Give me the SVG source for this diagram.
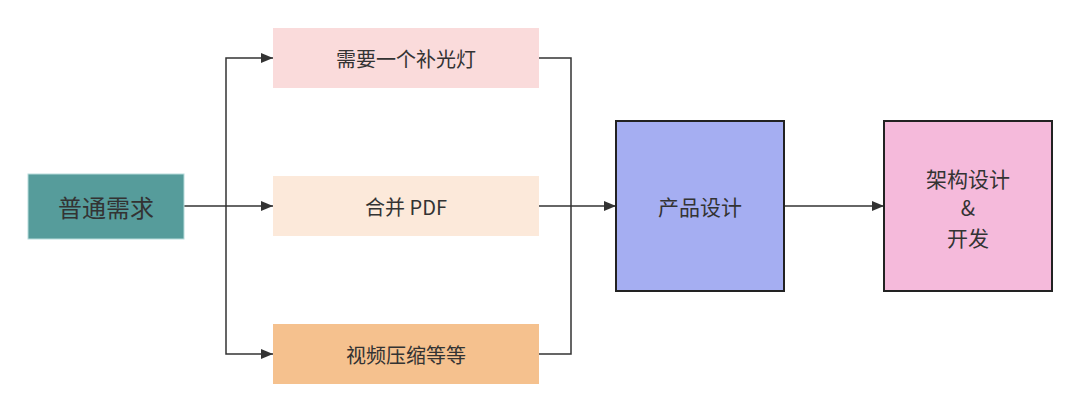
<svg xmlns="http://www.w3.org/2000/svg" width="1080" height="412" viewBox="0 0 1080 412">
<defs>
<marker id="arr" viewBox="0 0 12 10" refX="12" refY="5" markerWidth="12" markerHeight="10" markerUnits="userSpaceOnUse" orient="auto">
<path d="M0,0 L12,5 L0,10 Z" fill="#333"/>
</marker>
</defs>
<style>
text{font-family:"Noto Sans CJK SC","Liberation Sans",sans-serif;fill:#333;text-anchor:middle;dominant-baseline:central}
.c{fill:none;stroke:#333;stroke-width:1.5}
.s{font-size:20px}
.m{font-size:21px}
</style>
<rect width="1080" height="412" fill="#fff"/>
<g id="connectors">
<path class="c" d="M184,206 H226"/>
<path class="c" d="M226,206 V58 H273" marker-end="url(#arr)"/>
<path class="c" d="M226,206 H273" marker-end="url(#arr)"/>
<path class="c" d="M226,206 V354 H273" marker-end="url(#arr)"/>
<path class="c" d="M539,58 H571 V354 H539"/>
<path class="c" d="M539,206 H616" marker-end="url(#arr)"/>
<path class="c" d="M784,206 H884" marker-end="url(#arr)"/>
</g>
<g id="n-demand">
<rect x="28" y="174" width="156" height="65" fill="#569C9B" stroke="#B8DCDB" stroke-width="1"/>
<text x="106" y="206.5" style="font-size:24px">普通需求</text>
</g>
<g id="n-light">
<rect x="273" y="28" width="266" height="60" fill="#FADBDB"/>
<text class="s" x="406" y="58">需要一个补光灯</text>
</g>
<g id="n-pdf">
<rect x="273" y="176" width="266" height="60" fill="#FCE9DA"/>
<text class="s" x="406" y="206">合并 PDF</text>
</g>
<g id="n-video">
<rect x="273" y="324" width="266" height="60" fill="#F5C18E"/>
<text class="s" x="406" y="354">视频压缩等等</text>
</g>
<g id="n-product">
<rect x="616" y="121" width="168" height="170" fill="#A5AEF2" stroke="#222" stroke-width="2"/>
<text class="m" x="700" y="206">产品设计</text>
</g>
<g id="n-arch">
<rect x="884" y="121" width="168" height="170" fill="#F5BADB" stroke="#222" stroke-width="2"/>
<text class="m" x="968" y="178">架构设计</text>
<text class="m" x="968" y="207">&amp;</text>
<text class="m" x="968" y="237">开发</text>
</g>
</svg>
